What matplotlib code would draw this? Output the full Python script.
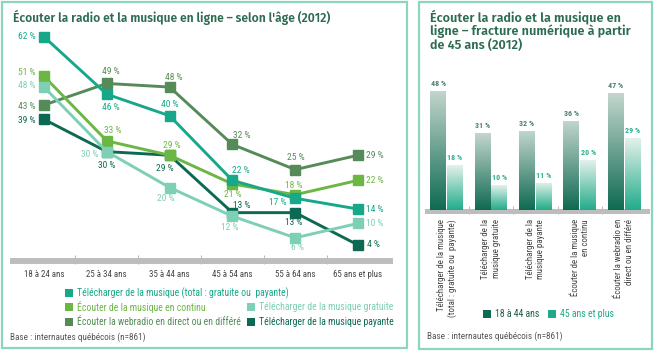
import numpy as np
import matplotlib
matplotlib.use("Agg")
import matplotlib.pyplot as plt
from matplotlib.patches import Rectangle
from matplotlib.colors import LinearSegmentedColormap

# ---------------- data ----------------
age_groups = ["18 à 24 ans", "25 à 34 ans", "35 à 44 ans", "45 à 54 ans", "55 à 64 ans", "65 ans et plus"]

dl_total = [62, 46, 40, 22, 17, 14]
stream = [51, 33, 29, 21, 18, 22]
dl_free = [48, 30, 20, 12, 6, 10]
webradio = [43, 49, 48, 32, 25, 29]
dl_paid = [39, 30, 29, 13, 13, 4]

series_names = [
    "Télécharger de la musique (total : gratuite ou  payante)",
    "Écouter de la musique en continu",
    "Télécharger de la musique gratuite",
    "Écouter la webradio en direct ou en différé",
    "Télécharger de la musique payante",
]

bar_cats = [
    "Télécharger de la musique\n(total : gratuite ou  payante)",
    "Télécharger de la\nmusique gratuite",
    "Télécharger de la\nmusique payante",
    "Écouter de la musique\nen continu",
    "Écouter la webradio en\ndirect ou en différé",
]
age_18_44 = [48, 31, 32, 36, 47]
age_45_plus = [18, 10, 11, 20, 29]
bar_legend = ["18 à 44 ans", "45 ans et plus"]

base_note = "Base : internautes québécois (n=861)"

# ---------------- style ----------------
W, H = 656, 353
TITLE_FONT = ["Fira Sans", "Lato", "DejaVu Sans"]
LAB_FONT = ["Roboto Condensed", "DejaVu Sans"]
TITLE_COL = "#2d6b52"
BORDER = "#8dd5c0"
AXIS_GRAY = "#bdbdbd"

C_TOTAL = "#17a88a"
C_STREAM = "#6cb644"
C_FREE = "#7dcfb6"
C_RADIO = "#558b58"
C_PAID = "#0d6a52"


def fx(x):
    return x / W


def fy(y):
    return 1 - y / H


fig = plt.figure(figsize=(W / 100, H / 100), dpi=100)

# panel frames
fig.patches.append(Rectangle((fx(2), fy(348)), fx(405), 346 / H, transform=fig.transFigure,
                             fill=False, edgecolor=BORDER, linewidth=1.6))
fig.patches.append(Rectangle((fx(419), fy(349)), fx(233), 347 / H, transform=fig.transFigure,
                             fill=False, edgecolor=BORDER, linewidth=1.6))

# -------------------------------------------------------------
# LEFT: line chart by age
# -------------------------------------------------------------
fig.text(fx(13), fy(17), "Écouter la radio et la musique en ligne – selon l'âge (2012)",
         family=TITLE_FONT, fontsize=8.65, weight="semibold", color=TITLE_COL, va="center")

ax = fig.add_axes([fx(13), fy(264), fx(377), 234 / H])
x = np.arange(len(age_groups))

# (values, colour, label offsets in px: dx, dy up)
lines = [
    (webradio, C_RADIO, [(-17, -2), (4, 12), (4, 10), (9, 9), (1, 12), (17, 0)]),
    (dl_paid, C_PAID, [(-17, -1), (0, -14), (-5, -13), (9, 7), (-1, -10), (15, 0)]),
    (stream, C_STREAM, [(-17, 4), (6, 10), (2, 10), (0, -11), (-1, 9), (17, 0)]),
    (dl_total, C_TOTAL, [(-17, 0), (4, -13), (0, 11), (8, 10), (-17, -4), (17, 0)]),
    (dl_free, C_FREE, [(-17, 2), (-17, -3), (-4, -11), (-3, -11), (2, -10), (17, 0)]),
]
for vals, col, offs in lines:
    ax.plot(x, vals, color=col, lw=2.1, marker="s", ms=6.5, zorder=3)
    for xi, v, (dx, dy) in zip(x, vals, offs):
        ax.annotate(f"{v} %", (xi, v), xytext=(dx * 0.72, dy * 0.72), textcoords="offset points",
                    ha="center", va="center", family=LAB_FONT, fontsize=6.8, color=col)

ax.set_xlim(-0.494, 5.51)
ax.set_ylim(-1.31, 63.9)
ax.axhline(-0.47, color=AXIS_GRAY, lw=4.3, zorder=1, clip_on=False)
for s in ax.spines.values():
    s.set_visible(False)
ax.set_yticks([])
ax.set_xticks(x, age_groups)
ax.set_xticks(x[:-1] + 0.5, minor=True)
ax.tick_params(axis="x", which="major", length=0, pad=4.5, labelsize=6.4, labelcolor="#444444")
ax.tick_params(axis="x", which="minor", direction="in", length=6.5, width=0.8, color=AXIS_GRAY)
for t in ax.get_xticklabels():
    t.set_family(LAB_FONT)

# legend (manual, two columns)
leg_cols = [C_TOTAL, C_STREAM, C_FREE, C_RADIO, C_PAID]
leg_pos = [(69, 293), (69, 307), (251, 307), (69, 322), (251, 322)]
for name, col, (lx, ly) in zip(series_names, leg_cols, leg_pos):
    fig.patches.append(Rectangle((fx(lx - 4), fy(ly + 4)), fx(8), 8 / H, transform=fig.transFigure,
                                 facecolor=col, edgecolor="none"))
    fig.text(fx(lx + 8), fy(ly), name, family=LAB_FONT, fontsize=7.05, color=col, va="center")

fig.text(fx(10), fy(337), base_note, family=LAB_FONT, fontsize=6.6, color="#555555", va="center")

# -------------------------------------------------------------
# RIGHT: bar chart 18-44 vs 45+
# -------------------------------------------------------------
fig.text(fx(430), fy(9), "Écouter la radio et la musique en\nligne – fracture numérique à partir\nde 45 ans (2012)",
         family=TITLE_FONT, fontsize=9.1, weight="semibold", color=TITLE_COL, va="top", linespacing=1.08)

ax2 = fig.add_axes([fx(427), fy(214), fx(220), 134 / H])
xb = np.arange(len(bar_cats))
bw = 0.36
off = 0.19


def gradient_bar(axis, xc, h, c_bottom, c_top):
    bar = axis.bar(xc, h, bw, color="none", edgecolor="none", zorder=2)[0]
    cmap = LinearSegmentedColormap.from_list("g", [c_bottom, c_top])
    grad = np.linspace(0, 1, 128).reshape(-1, 1)
    im = axis.imshow(grad, cmap=cmap, extent=(xc - bw / 2, xc + bw / 2, 0, h), origin="lower",
                     aspect="auto", zorder=2, interpolation="bilinear")
    im.set_clip_path(bar)


for xi, v in zip(xb, age_18_44):
    gradient_bar(ax2, xi - off, v, "#0f6a52", "#c3d6cd")
    ax2.text(xi - off, v + 1.6, f"{v} %", ha="center", va="bottom", family=LAB_FONT,
             fontsize=5.8, weight="bold", color="#4a8070")
for xi, v in zip(xb, age_45_plus):
    gradient_bar(ax2, xi + off, v, "#22ac8a", "#e3f1eb")
    ax2.text(xi + off, v + 1.6, f"{v} %", ha="center", va="bottom", family=LAB_FONT,
             fontsize=5.8, weight="bold", color="#2aae8e")

ax2.set_xlim(-0.44, 4.515)
ax2.set_ylim(-1.61, 52.4)
ax2.axhline(-0.6, color=AXIS_GRAY, lw=3.6, zorder=1, clip_on=False)
for s in ax2.spines.values():
    s.set_visible(False)
ax2.set_yticks([])
ax2.set_xticks(xb, bar_cats, rotation=90, multialignment="right")
ax2.set_xticks(xb[:-1] + 0.5, minor=True)
ax2.tick_params(axis="x", which="major", length=0, pad=3.6, labelsize=6.4, labelcolor="#444444")
ax2.tick_params(axis="x", which="minor", direction="in", length=5.5, width=0.8, color=AXIS_GRAY)
for t in ax2.get_xticklabels():
    t.set_family(LAB_FONT)
    t.set_linespacing(1.2)

for name, col, tcol, (lx, ly) in zip(bar_legend, ["#0d6a52", "#1fa988"], ["#1b5e4b", "#23a987"],
                                     [(487, 314), (552, 314)]):
    fig.patches.append(Rectangle((fx(lx - 4), fy(ly + 4)), fx(8), 8 / H, transform=fig.transFigure,
                                 facecolor=col, edgecolor="none"))
    fig.text(fx(lx + 8), fy(ly), name, family=LAB_FONT, fontsize=7.0, color=tcol, va="center")

fig.text(fx(427), fy(336), base_note, family=LAB_FONT, fontsize=6.6, color="#555555", va="center")

fig.savefig("out.png", dpi=100)
